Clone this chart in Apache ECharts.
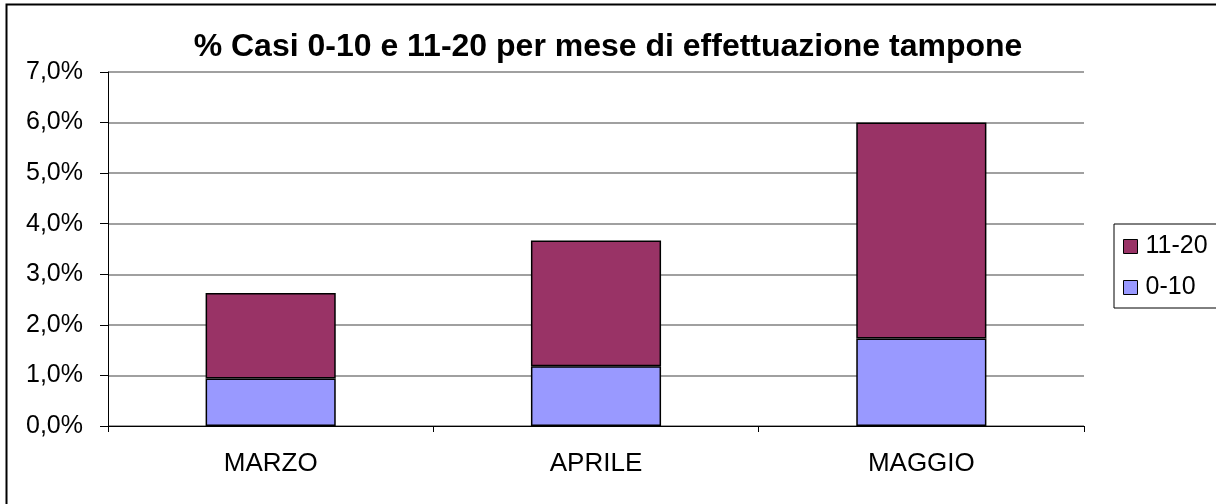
<!DOCTYPE html>
<html>
<head>
<meta charset="utf-8">
<script src="https://cdn.jsdelivr.net/npm/echarts@6/dist/echarts.min.js"></script>
<style>
html, body { margin: 0; padding: 0; background: #fff; }
#chart { width: 1216px; height: 504px; }
</style>
</head>
<body>
<div id="chart"></div>
<script>
// values, in percent
const months = ['MARZO', 'APRILE', 'MAGGIO'];
const age0to10 = [0.94, 1.18, 1.73];
const age11to20 = [1.69, 2.49, 4.27];
const seriesNames = ['0-10', '11-20'];
const titleText = '% Casi 0-10 e 11-20 per mese di effettuazione tampone';

const font = '"Liberation Sans", Arial, sans-serif';

const chart = echarts.init(document.getElementById('chart'), null, {renderer: 'canvas'});

chart.setOption({
    animation: false,
    textStyle: {fontFamily: font},
    title: {
        text: titleText,
        left: 'center',
        top: 26,
        textStyle: {fontFamily: font, fontSize: 32, fontWeight: 'bold', color: '#000'}
    },
    graphic: [{
        type: 'rect',
        shape: {x: 6.5, y: 4.5, width: 1240, height: 540},
        style: {fill: 'none', stroke: '#000', lineWidth: 2}
    }],
    legend: {
        data: ['11-20', '0-10'],
        orient: 'vertical',
        left: 1114,
        top: 224,
        padding: [9, 30, 7, 9],
        itemGap: 14,
        itemWidth: 14,
        itemHeight: 14,
        icon: 'rect',
        itemStyle: {borderColor: '#000', borderWidth: 1},
        backgroundColor: '#fff',
        borderColor: '#000',
        borderWidth: 1,
        textStyle: {fontFamily: font, fontSize: 25, color: '#000', lineHeight: 27, padding: [0, 0, 0, 3]}
    },
    grid: {left: 108, right: 132, top: 72, bottom: 78},
    xAxis: {
        type: 'category',
        data: months,
        axisLine: {lineStyle: {color: '#000', width: 1}},
        axisTick: {show: true, length: 6, lineStyle: {color: '#000'}},
        axisLabel: {fontFamily: font, fontSize: 26, color: '#000', margin: 25}
    },
    yAxis: {
        type: 'value',
        min: 0,
        max: 7,
        interval: 1,
        axisLine: {show: true, lineStyle: {color: '#000', width: 1}},
        axisTick: {show: true, length: 8, lineStyle: {color: '#000'}},
        splitLine: {lineStyle: {color: '#808080', width: 1.5}},
        axisLabel: {
            fontFamily: font,
            fontSize: 25,
            color: '#000',
            margin: 25,
            formatter: (v) => v.toFixed(1).replace('.', ',') + '%'
        }
    },
    series: [
        {
            name: seriesNames[0],
            type: 'bar',
            stack: 'tot',
            data: age0to10,
            barWidth: '40%',
            itemStyle: {color: '#9999ff', borderColor: '#000', borderWidth: 1.5}
        },
        {
            name: seriesNames[1],
            type: 'bar',
            stack: 'tot',
            data: age11to20,
            barWidth: '40%',
            itemStyle: {color: '#993366', borderColor: '#000', borderWidth: 1.5}
        }
    ]
});
</script>
</body>
</html>
